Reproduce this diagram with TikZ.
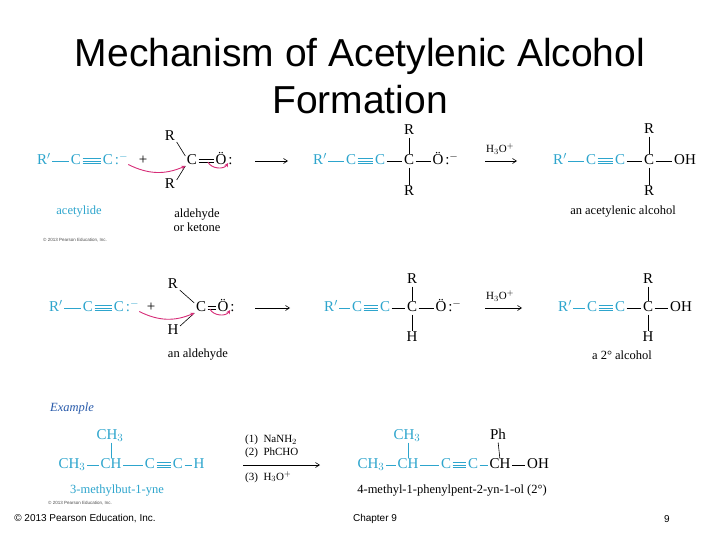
\documentclass[tikz,border=0pt]{standalone}
\usepackage{fontspec}
\setmainfont{Liberation Serif}
\newfontfamily\arialf{Liberation Sans}
\usetikzlibrary{arrows.meta}
\definecolor{chemcyan}{RGB}{45,165,205}
\definecolor{curvy}{RGB}{215,45,120}
\definecolor{exblue}{RGB}{40,90,170}
\newcommand\tbond[3][chemcyan]{\foreach \dd in {-2.6,0,2.6}{\draw[bond,#1] ([yshift=\dd pt]#2.east) -- ([yshift=\dd pt]#3.west);}}
\newcommand\dbond[3][black]{\foreach \dd in {-1.6,1.6}{\draw[bond,#1] ([yshift=\dd pt]#2.east) -- ([yshift=\dd pt]#3.west);}}
\newcommand\sbond[3][black]{\draw[bond,#1] (#2.east) -- (#3.west);}
\newcommand\vbond[3][black]{\draw[bond,#1,shorten >=1.5pt,shorten <=1.5pt] (#2.south) -- (#3.north);}
\begin{document}
\begin{tikzpicture}[x=1pt,y=-1pt,
 atm/.style={inner sep=1.5pt, text height=1.45ex, text depth=0pt, font=\fontsize{15}{18}\selectfont},
 cy/.style={atm, text=chemcyan},
 bk/.style={atm, text=black},
 lab/.style={inner sep=0pt, font=\fontsize{12.5}{14}\selectfont, align=center},
 bond/.style={line width=0.6pt},
 rxn/.style={line width=0.6pt, -{Straight Barb[length=4pt,width=5pt]}},
 curl/.style={curvy, line width=0.9pt, -{Stealth[length=4pt,width=4pt]}},
 foot/.style={inner sep=0pt, font=\arialf\fontsize{10}{12}\selectfont},
 tiny/.style={inner sep=0pt, font=\arialf\fontsize{4.5}{5}\selectfont, text=black!70}]
\useasboundingbox (0,0) rectangle (720,540);
\fill[white] (0,0) rectangle (720,540);
\node[inner sep=0pt, font=\arialf\fontsize{39}{47}\selectfont, align=center] (title) at (360,76) {Mechanism of Acetylenic Alcohol\\Formation};

% ---------- row 1 ----------
\node[cy] (a1) at (44,161) {R$'$};
\node[cy] (a2) at (76,161) {C};
\node[cy] (a3) at (108,161) {C};
\node[cy, anchor=west, inner sep=0pt] (a3c) at (a3.east) {:$^{-}$};
\node[bk] (plus1) at (143,161) {+};
\node[bk] (b0) at (192,161) {C};
\node[bk] (b1) at (170,137) {R};
\node[bk] (b2) at (170,185) {R};
\node[bk] (b3) at (221,161) {\"O};
\node[bk, anchor=west, inner sep=0pt] (b3c) at (b3.east) {:};
\sbond[chemcyan]{a1}{a2}\tbond{a2}{a3}
\draw[bond] (b1.south east) -- (b0.north west);
\draw[bond] (b2.north east) -- (b0.south west);
\dbond{b0}{b3}
\draw[curl] (a3c.south east) to[bend right=25] (b0.south west);
\draw[curl] ([xshift=-6pt,yshift=4pt]b3.south west) to[bend right=60] ([yshift=3pt]b3.south east);
\coordinate (r1s) at (255,161); \coordinate (r1e) at (288,161);
\draw[rxn] (r1s) -- (r1e);

\node[cy] (p1) at (320,161) {R$'$};
\node[cy] (p2) at (351,161) {C};
\node[cy] (p3) at (380,161) {C};
\node[bk] (p4) at (409,161) {C};
\node[bk] (p5) at (438,161) {\"O};
\node[bk, anchor=west, inner sep=0pt] (p5c) at (p5.east) {:$^{-}$};
\node[bk] (p6) at (409,131) {R};
\node[bk] (p7) at (409,192) {R};
\sbond[chemcyan]{p1}{p2}\tbond{p2}{p3}\sbond{p3}{p4}\sbond{p4}{p5}
\vbond{p6}{p4}\vbond{p4}{p7}
\coordinate (r2s) at (485,161); \coordinate (r2e) at (517,161);
\draw[rxn] (r2s) -- (r2e);
\node[lab, font=\fontsize{11}{12}\selectfont] (h1) at (500,149) {H$_3$O$^+$};

\node[cy] (q1) at (560,161) {R$'$};
\node[cy] (q2) at (591,161) {C};
\node[cy] (q3) at (620,161) {C};
\node[bk] (q4) at (649,161) {C};
\node[bk] (q5) at (685,161) {OH};
\node[bk] (q6) at (649,130) {R};
\node[bk] (q7) at (649,192) {R};
\sbond[chemcyan]{q1}{q2}\tbond{q2}{q3}\sbond{q3}{q4}\sbond{q4}{q5}
\vbond{q6}{q4}\vbond{q4}{q7}

\node[lab, text=chemcyan] (l1) at (79,212) {acetylide};
\node[lab] (l2) at (197,220) {aldehyde\\or ketone};
\node[lab] (l3) at (623,212) {an acetylenic alcohol};
\node[tiny] (c1) at (75,240) {© 2013 Pearson Education, Inc.};

% ---------- row 2 ----------
\node[cy] (d1) at (56,308) {R$'$};
\node[cy] (d2) at (88,308) {C};
\node[cy] (d3) at (119,308) {C};
\node[cy, anchor=west, inner sep=0pt] (d3c) at (d3.east) {:$^{-}$};
\node[bk] (plus2) at (151,308) {+};
\node[bk] (e0) at (201,308) {C};
\node[bk] (e1) at (173,285) {R};
\node[bk] (e2) at (173,331) {H};
\node[bk] (e3) at (223,308) {\"O};
\node[bk, anchor=west, inner sep=0pt] (e3c) at (e3.east) {:};
\sbond[chemcyan]{d1}{d2}\tbond{d2}{d3}
\draw[bond] (e1.south east) -- (e0.north west);
\draw[bond] (e2.north east) -- (e0.south west);
\dbond{e0}{e3}
\draw[curl] (d3c.south east) to[bend right=25] (e0.south west);
\draw[curl] ([xshift=-6pt,yshift=4pt]e3.south west) to[bend right=60] ([yshift=3pt]e3.south east);
\coordinate (r3s) at (255,308); \coordinate (r3e) at (290,308);
\draw[rxn] (r3s) -- (r3e);

\node[cy] (f1) at (331,308) {R$'$};
\node[cy] (f2) at (357,308) {C};
\node[cy] (f3) at (385,308) {C};
\node[bk] (f4) at (412,308) {C};
\node[bk] (f5) at (441,308) {\"O};
\node[bk, anchor=west, inner sep=0pt] (f5c) at (f5.east) {:$^{-}$};
\node[bk] (f6) at (412,280) {R};
\node[bk] (f7) at (412,338) {H};
\sbond[chemcyan]{f1}{f2}\tbond{f2}{f3}\sbond{f3}{f4}\sbond{f4}{f5}
\vbond{f6}{f4}\vbond{f4}{f7}
\coordinate (r4s) at (485,308); \coordinate (r4e) at (522,308);
\draw[rxn] (r4s) -- (r4e);
\node[lab, font=\fontsize{11}{12}\selectfont] (h2) at (500,296) {H$_3$O$^+$};

\node[cy] (g1) at (565,308) {R$'$};
\node[cy] (g2) at (592,308) {C};
\node[cy] (g3) at (620,308) {C};
\node[bk] (g4) at (648,308) {C};
\node[bk] (g5) at (681,308) {OH};
\node[bk] (g6) at (648,280) {R};
\node[bk] (g7) at (648,338) {H};
\sbond[chemcyan]{g1}{g2}\tbond{g2}{g3}\sbond{g3}{g4}\sbond{g4}{g5}
\vbond{g6}{g4}\vbond{g4}{g7}

\node[lab] (l4) at (198,355) {an aldehyde};
\node[lab] (l5) at (622,355) {a 2° alcohol};

% ---------- row 3 ----------
\node[lab, text=exblue, font=\itshape\fontsize{12.5}{14}\selectfont] (ex) at (72,408) {Example};
\node[cy] (m1) at (72,465) {CH$_3$};
\node[cy] (m2) at (111,465) {CH};
\node[cy] (m3) at (150,465) {C};
\node[cy] (m4) at (178,465) {C};
\node[cy] (m5) at (199,465) {H};
\node[cy] (m6) at (110,436) {CH$_3$};
\sbond[chemcyan]{m1}{m2}\sbond[chemcyan]{m2}{m3}\tbond{m3}{m4}\sbond[chemcyan]{m4}{m5}
\draw[bond,chemcyan,shorten >=1.5pt,shorten <=1.5pt] (m6.south -| m2) -- (m2.north);
\node[lab, text=chemcyan] (l6) at (117,491) {3-methylbut-1-yne};
\node[tiny] (c2) at (80,503) {© 2013 Pearson Education, Inc.};

\coordinate (r5s) at (243,465); \coordinate (r5e) at (320,465);
\draw[rxn] (r5s) -- (r5e);
\node[lab, font=\fontsize{11}{13}\selectfont, align=left, anchor=west] (rg1) at (245,440) {(1)\ \ NaNH$_2$};
\node[lab, font=\fontsize{11}{13}\selectfont, align=left, anchor=west] (rg2) at (245,453) {(2)\ \ PhCHO};
\node[lab, font=\fontsize{11}{13}\selectfont, align=left, anchor=west] (rg3) at (245,477) {(3)\ \ H$_3$O$^+$};

\node[cy] (n1) at (371,465) {CH$_3$};
\node[cy] (n2) at (408,465) {CH};
\node[cy] (n3) at (446,465) {C};
\node[cy] (n4) at (473,465) {C};
\node[bk] (n5) at (500,465) {CH};
\node[bk] (n6) at (538,465) {OH};
\node[cy] (n7) at (407,436) {CH$_3$};
\node[bk] (n8) at (498,436) {Ph};
\sbond[chemcyan]{n1}{n2}\sbond[chemcyan]{n2}{n3}\tbond{n3}{n4}\sbond[chemcyan]{n4}{n5}\sbond{n5}{n6}
\draw[bond,chemcyan,shorten >=1.5pt,shorten <=1.5pt] (n7.south -| n2) -- (n2.north);
\vbond{n8}{n5}
\node[lab] (l7) at (452,491) {4-methyl-1-phenylpent-2-yn-1-ol (2°)};

% ---------- footer ----------
\node[foot] (f_a) at (85,519) {© 2013 Pearson Education, Inc.};
\node[foot] (f_b) at (375,519) {Chapter 9};
\node[foot] (f_c) at (667,519) {9};
\end{tikzpicture}
\end{document}
